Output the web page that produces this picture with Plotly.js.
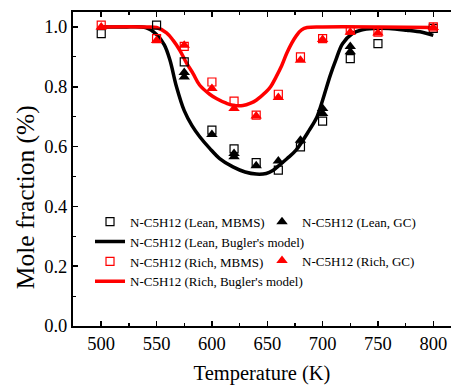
<!DOCTYPE html>
<html><head><meta charset="utf-8">
<script src="https://cdn.plot.ly/plotly-3.0.1.min.js"></script>
<style>html,body{margin:0;padding:0;background:#fff}#chart{width:451px;height:386px}</style>
</head><body><div id="chart"></div>
<script>
const leanMbmsT = [500, 550, 575, 600, 620, 640, 660, 680, 700, 725, 750, 800];
const leanMbms  = [0.978, 1.006, 0.883, 0.655, 0.592, 0.546, 0.521, 0.599, 0.685, 0.894, 0.944, 0.995];
const leanGcT = [575, 575, 600, 620, 620, 640, 660, 680, 700, 700, 725, 725];
const leanGc  = [0.848, 0.833, 0.640, 0.577, 0.566, 0.536, 0.552, 0.621, 0.727, 0.711, 0.935, 0.917];
const richMbmsT = [500, 550, 575, 600, 620, 640, 660, 680, 700, 725, 750, 800];
const richMbms  = [1.006, 0.961, 0.935, 0.816, 0.752, 0.705, 0.775, 0.900, 0.961, 0.989, 0.983, 1.0];
const richGcT = [500, 550, 575, 600, 620, 640, 660, 680, 700, 725, 750, 800];
const richGc  = [1.0, 0.955, 0.939, 0.794, 0.727, 0.702, 0.764, 0.889, 0.958, 0.982, 0.980, 0.998];
const leanModelT = [500, 520, 540, 550, 557, 562, 568, 575, 582, 589, 598, 607, 619, 630, 640, 649, 655, 661, 668, 676, 688, 695, 700, 707, 712, 718, 727, 735, 746, 760, 776, 790, 800];
const leanModel  = [1.0, 1.0, 0.998, 0.975, 0.94, 0.89, 0.80, 0.72, 0.67, 0.633, 0.594, 0.56, 0.532, 0.515, 0.508, 0.510, 0.52, 0.538, 0.56, 0.588, 0.655, 0.70, 0.755, 0.839, 0.89, 0.944, 0.978, 0.99, 0.995, 0.995, 0.989, 0.982, 0.972];
const richModelT = [500, 540, 550, 559, 565, 571, 577, 583, 589, 598, 604, 613, 619, 628, 635, 640, 649, 653, 658, 663, 667.5, 672, 676.5, 681, 686, 700, 750, 800];
const richModel  = [1.0, 1.0, 0.998, 0.98, 0.955, 0.922, 0.88, 0.844, 0.805, 0.775, 0.761, 0.745, 0.738, 0.737, 0.745, 0.755, 0.783, 0.80, 0.833, 0.87, 0.911, 0.945, 0.972, 0.99, 0.998, 1.0, 1.0, 0.998];
const names = {
  leanMbms: "N-C5H12 (Lean, MBMS)",
  leanGc: "N-C5H12 (Lean, GC)",
  leanModel: "N-C5H12 (Lean, Bugler's model)",
  richMbms: "N-C5H12 (Rich, MBMS)",
  richGc: "N-C5H12 (Rich, GC)",
  richModel: "N-C5H12 (Rich, Bugler's model)"
};
const xTitle = 'Temperature (K)';
const yTitle = 'Mole fraction (%)';
const xTicks = [500, 550, 600, 650, 700, 750, 800];
const yTicks = [0.0, 0.2, 0.4, 0.6, 0.8, 1.0];

const RED = '#ff0000', BLK = '#000000';
const traces = [
  {x: leanModelT, y: leanModel, name: names.leanModel, mode: 'lines', line: {color: BLK, width: 3.5, shape: 'spline'}, legend: 'legend', legendrank: 2},
  {x: richModelT, y: richModel, name: names.richModel, mode: 'lines', line: {color: RED, width: 3.5, shape: 'spline'}, legend: 'legend', legendrank: 4},
  {x: leanMbmsT, y: leanMbms, name: names.leanMbms, mode: 'markers', marker: {symbol: 'square-open', size: 8, color: BLK, line: {width: 1.2}}, legend: 'legend', legendrank: 1},
  {x: leanGcT, y: leanGc, name: names.leanGc, mode: 'markers', marker: {symbol: 'triangle-up', size: 10, color: BLK}, legend: 'legend2', legendgroup: 'g1', legendrank: 1},
  {x: richMbmsT, y: richMbms, name: names.richMbms, mode: 'markers', marker: {symbol: 'square-open', size: 8, color: RED, line: {width: 1.2}}, legend: 'legend', legendrank: 3},
  {x: richGcT, y: richGc, name: names.richGc, mode: 'markers', marker: {symbol: 'triangle-up', size: 10, color: RED}, legend: 'legend2', legendgroup: 'g2', legendrank: 2}
];
const F = '"Liberation Serif", "Times New Roman", serif';
const layout = {
  width: 451, height: 386,
  margin: {l: 73, r: 0, t: 12, b: 60},
  paper_bgcolor: '#fff', plot_bgcolor: '#fff',
  font: {family: F, color: '#000'},
  showlegend: true,
  xaxis: {
    range: [474.5, 816], tickvals: xTicks, ticktext: xTicks.map(String),
    ticks: 'inside', ticklen: 5, tickwidth: 1.5, tickcolor: '#000',
    minor: {dtick: 25, tick0: 500, ticks: 'inside', ticklen: 3, tickwidth: 1.2, tickcolor: '#000'},
    showline: true, linecolor: '#000', linewidth: 2, mirror: 'ticks',
    showgrid: false, zeroline: false,
    tickfont: {family: F, size: 18.5, color: '#000'},
    title: {text: xTitle, font: {family: F, size: 20.5, color: '#000'}, standoff: 12}
  },
  yaxis: {
    range: [0, 1.05], tickvals: yTicks, ticktext: yTicks.map(v => v.toFixed(1)),
    ticks: 'inside', ticklen: 5, tickwidth: 1.5, tickcolor: '#000',
    minor: {dtick: 0.1, tick0: 0, ticks: 'inside', ticklen: 3, tickwidth: 1.2, tickcolor: '#000'},
    showline: true, linecolor: '#000', linewidth: 2, mirror: false,
    showgrid: false, zeroline: false,
    tickfont: {family: F, size: 18.5, color: '#000'}
  },
  annotations: [{
    text: yTitle, textangle: -90, xref: 'paper', yref: 'paper',
    x: -0.127, y: 0.41, xanchor: 'center', yanchor: 'middle', showarrow: false,
    font: {family: F, size: 25.5, color: '#000'}
  }],
  legend: {x: 0.045, y: 0.38, xanchor: 'left', yanchor: 'top', bgcolor: 'rgba(0,0,0,0)',
    font: {family: F, size: 13, color: '#000'}, traceorder: 'normal', itemwidth: 30, tracegroupgap: 0},
  legend2: {x: 0.5, y: 0.38, xanchor: 'left', yanchor: 'top', bgcolor: 'rgba(0,0,0,0)',
    font: {family: F, size: 13, color: '#000'}, traceorder: 'grouped', itemwidth: 30, tracegroupgap: 19}
};
Plotly.newPlot('chart', traces, layout, {displayModeBar: false, staticPlot: true});
</script></body></html>
